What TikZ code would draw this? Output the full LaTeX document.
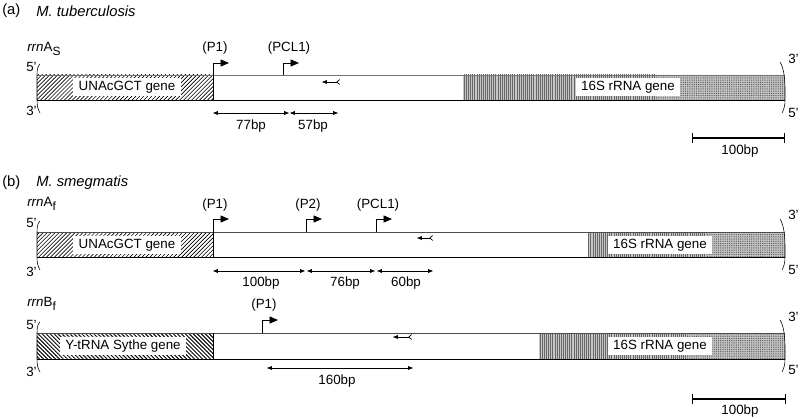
\documentclass[tikz,border=0pt]{standalone}
\usepackage{fontspec}
\setmainfont{Liberation Sans}
\usetikzlibrary{arrows.meta,patterns.meta}

\newcommand{\lowsub}[1]{\raisebox{-2.6pt}{\fontsize{8.5}{9}\selectfont #1}}

\tikzset{
  txt/.style={font=\fontsize{9.5}{11}\selectfont, inner sep=0pt},
  ttl/.style={font=\fontsize{10.5}{12}\selectfont, inner sep=0pt, anchor=west},
  genebox/.style={txt, fill=white, inner xsep=4pt, inner ysep=1.8pt},
  prom/.style={line width=0.6pt, -{Triangle[length=6pt,width=5pt]}},
  dimarrow/.style={line width=0.5pt, {Triangle[length=3.5pt,width=2.6pt]}-{Triangle[length=3.5pt,width=2.6pt]}},
  feather/.style={line width=0.5pt, {Straight Barb[reversed,length=2pt,width=3.5pt]}-{Triangle[length=3.5pt,width=2.6pt]}},
  hatchA/.style={pattern={Lines[angle=45,distance=2pt,line width=0.45pt]}},
  hatchB/.style={pattern={Lines[angle=-45,distance=2pt,line width=0.7pt]}},
  rnaA/.style={pattern={Lines[angle=90,distance=1.5pt,line width=0.3pt]},pattern color=black!60},
  rnaB/.style={pattern={Dots[distance=1.3pt,radius=0.35pt]},pattern color=black!75},
  scalebar/.style={line width=1.3pt, {Bar[width=7pt,line width=1pt]}-{Bar[width=7pt,line width=1pt]}}
}

\begin{document}
\begin{tikzpicture}[x=0.025cm,y=-0.025cm]
\useasboundingbox (0,0) rectangle (800,419);

% (a) M. tuberculosis
\node[ttl] (capa) at (2,11) {(a)};
\node[ttl] (orga) at (36,11) {\itshape M. tuberculosis};
\node[txt,anchor=west] (rrnAs) at (27,49) {\textit{rrn}A\lowsub{S}};
\node[txt,anchor=west] (a5l) at (26,67) {5'};
\node[txt,anchor=west] (a3l) at (26,111) {3'};
\node[txt,anchor=west] (a3r) at (788,59) {3'};
\node[txt,anchor=west] (a5r) at (788,113) {5'};

\fill[black!22] (463,75) rectangle (785,100);
\fill[hatchA] (37,75) rectangle (213,100);
\fill[rnaA] (463,75) rectangle (656,100);
\fill[rnaB] (656,75) rectangle (785,100);
\draw[black!55] (37,75) -- (785,75);
\draw (37,100) -- (785,100);
\draw (213,75) -- (213,100);
\draw (40,64) .. controls (37,67) and (37,71) .. (37,77) -- (37,98) .. controls (37,104) and (37,108) .. (40,113);
\draw (780,62) .. controls (784,68) and (785,80) .. (785,90) -- (785,100) .. controls (785,106) and (784,109) .. (782,113);
\node[genebox] (unaA) at (127,87) {UNAcGCT gene};
\node[genebox] (rnaAs) at (628,87) {16S rRNA gene};

\coordinate (aP1) at (213,75);
\coordinate (aPCL1) at (283,75);
\draw[prom] (aP1) -- ++(0,-12) -- ++(16,0);
\draw[prom] (aPCL1) -- ++(0,-12) -- ++(16,0);
\node[txt] (aP1l) at (215,48) {(P1)};
\node[txt] (aPCL1l) at (289,48) {(PCL1)};
\coordinate (afs) at (340,82);
\coordinate (afe) at (322,82);
\draw[feather] (afs) -- (afe);

\coordinate (ad1) at (213,113);
\coordinate (ad2) at (289,113);
\coordinate (ad3) at (290,113);
\coordinate (ad4) at (338,113);
\draw[dimarrow] (ad1) -- (ad2);
\draw[dimarrow] (ad3) -- (ad4);
\node[txt] (a77) at (251,126) {77bp};
\node[txt] (a57) at (313,126) {57bp};

\coordinate (asb1) at (692,138);
\coordinate (asb2) at (785,138);
\draw[scalebar] (asb1) -- (asb2);
\node[txt] (asbl) at (740,151) {100bp};

% (b) M. smegmatis
\node[ttl] (capb) at (2,183) {(b)};
\node[ttl] (orgb) at (36,183) {\itshape M. smegmatis};

% rrnAf
\node[txt,anchor=west] (rrnAf) at (27,204) {\textit{rrn}A\lowsub{f}};
\node[txt,anchor=west] (b5l) at (26,223) {5'};
\node[txt,anchor=west] (b3l) at (26,272) {3'};
\node[txt,anchor=west] (b3r) at (788,215) {3'};
\node[txt,anchor=west] (b5r) at (788,270) {5'};

\fill[black!22] (588,232) rectangle (785,257);
\fill[hatchA] (37,232) rectangle (213,257);
\fill[rnaA] (588,232) rectangle (706,257);
\fill[rnaB] (706,232) rectangle (785,257);
\draw[black!70] (37,232) -- (785,232);
\draw (37,257) -- (785,257);
\draw (213,232) -- (213,257);
\draw (40,221) .. controls (37,224) and (37,228) .. (37,234) -- (37,255) .. controls (37,261) and (37,265) .. (40,270);
\draw (780,219) .. controls (784,225) and (785,237) .. (785,247) -- (785,257) .. controls (785,263) and (784,266) .. (782,270);
\node[genebox] (unaB) at (127,245) {UNAcGCT gene};
\node[genebox] (rnaAf) at (660,245) {16S rRNA gene};

\coordinate (bP1) at (213,232);
\coordinate (bP2) at (306,232);
\coordinate (bPCL1) at (376,232);
\draw[prom] (bP1) -- ++(0,-13) -- ++(16,0);
\draw[prom] (bP2) -- ++(0,-13) -- ++(16,0);
\draw[prom] (bPCL1) -- ++(0,-13) -- ++(16,0);
\node[txt] (bP1l) at (215,205) {(P1)};
\node[txt] (bP2l) at (308,205) {(P2)};
\node[txt] (bPCL1l) at (378,205) {(PCL1)};
\coordinate (bfs) at (433,238);
\coordinate (bfe) at (417,238);
\draw[feather] (bfs) -- (bfe);

\coordinate (bd1) at (213,271);
\coordinate (bd2) at (305,271);
\coordinate (bd3) at (307,271);
\coordinate (bd4) at (375,271);
\coordinate (bd5) at (377,271);
\coordinate (bd6) at (433,271);
\draw[dimarrow] (bd1) -- (bd2);
\draw[dimarrow] (bd3) -- (bd4);
\draw[dimarrow] (bd5) -- (bd6);
\node[txt] (b100) at (261,283) {100bp};
\node[txt] (b76) at (345,283) {76bp};
\node[txt] (b60) at (406,283) {60bp};

% rrnBf
\node[txt,anchor=west] (rrnBf) at (27,304) {\textit{rrn}B\lowsub{f}};
\node[txt,anchor=west] (c5l) at (26,325) {5'};
\node[txt,anchor=west] (c3l) at (26,372) {3'};
\node[txt,anchor=west] (c3r) at (788,317) {3'};
\node[txt,anchor=west] (c5r) at (788,370) {5'};

\fill[black!22] (539,333) rectangle (785,359);
\fill[hatchB] (37,333) rectangle (213,359);
\fill[rnaA] (539,333) rectangle (687,359);
\fill[rnaB] (687,333) rectangle (785,359);
\draw[black!70] (37,333) -- (785,333);
\draw (37,359) -- (785,359);
\draw (213,333) -- (213,359);
\draw (40,322) .. controls (37,325) and (37,329) .. (37,335) -- (37,357) .. controls (37,363) and (37,367) .. (40,372);
\draw (780,320) .. controls (784,326) and (785,338) .. (785,348) -- (785,359) .. controls (785,365) and (784,368) .. (782,372);
\node[genebox] (ytrna) at (123,346) {Y-tRNA Sythe gene};
\node[genebox] (rnaBf) at (660,346) {16S rRNA gene};

\coordinate (cP1) at (262,333);
\draw[prom] (cP1) -- ++(0,-13) -- ++(16,0);
\node[txt] (cP1l) at (264,305) {(P1)};
\coordinate (cfs) at (412,337);
\coordinate (cfe) at (393,337);
\draw[feather] (cfs) -- (cfe);

\coordinate (cd1) at (267,368);
\coordinate (cd2) at (413,368);
\draw[dimarrow] (cd1) -- (cd2);
\node[txt] (c160) at (337,381) {160bp};

\coordinate (csb1) at (692,399);
\coordinate (csb2) at (786,399);
\draw[scalebar] (csb1) -- (csb2);
\node[txt] (csbl) at (740,411) {100bp};
\end{tikzpicture}
\end{document}
